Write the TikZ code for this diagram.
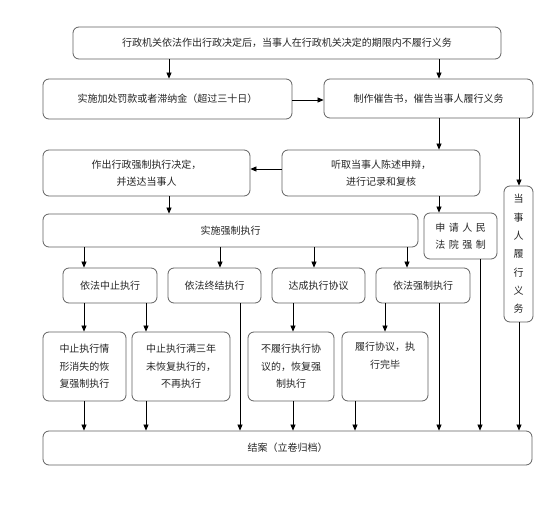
\documentclass[tikz,border=0pt]{standalone}
\usepackage{fontspec}
\setmainfont{Noto Sans CJK SC}
\usetikzlibrary{arrows.meta}
\newcommand\gp{\hspace{3.5pt}}
\begin{document}
\begin{tikzpicture}[x=1pt,y=-1pt,
 box/.style={draw=black!62, line width=0.8pt, rounded corners=6pt, inner sep=0pt,
   text=black!85, font=\fontsize{10}{17.5}\selectfont, align=center},
 arr/.style={-{Triangle[length=6pt,width=5pt]}, line width=0.7pt, black}]
\useasboundingbox (0,0) rectangle (560,508);
\fill[white] (0,0) rectangle (560,508);

\node[box, minimum width=428pt, minimum height=32pt] (top) at (287,43) {行政机关依法作出行政决定后，当事人在行政机关决定的期限内不履行义务};
\node[box, minimum width=249pt, minimum height=40pt] (fine) at (167.5,99) {实施加处罚款或者滞纳金（超过三十日）};
\node[box, minimum width=209pt, minimum height=39pt] (cuigao) at (428.5,98.5) {制作催告书，催告当事人履行义务};
\node[box, minimum width=207pt, minimum height=46pt] (jueding) at (146.5,173) {作出行政强制执行决定，\\并送达当事人};
\node[box, minimum width=198pt, minimum height=46pt] (tingqu) at (381,173) {听取当事人陈述申辩，\\进行记录和复核};
\node[box, minimum width=29pt, minimum height=136pt, font=\fontsize{10}{18.3}\selectfont] (lvxing) at (518.5,254) {当\\事\\人\\履\\行\\义\\务};
\node[box, minimum width=375pt, minimum height=33pt] (shishi) at (230.5,230.5) {实施强制执行};
\node[box, minimum width=73pt, minimum height=46pt] (fayuan) at (460.5,236) {申\gp 请\gp 人\gp 民\\法\gp 院\gp 强\gp 制};

\node[box, minimum width=94pt, minimum height=35pt] (zz) at (110,285.5) {依法中止执行};
\node[box, minimum width=93pt, minimum height=35pt] (zj) at (214.5,285.5) {依法终结执行};
\node[box, minimum width=93pt, minimum height=35pt] (dc) at (318.5,285.5) {达成执行协议};
\node[box, minimum width=94pt, minimum height=35pt] (qz) at (423,285.5) {依法强制执行};

\node[box, minimum width=83pt, minimum height=69pt] (b1) at (84.5,366.5) {中止执行情\\形消失的恢\\复强制执行};
\node[box, minimum width=98pt, minimum height=69pt] (b2) at (181,366.5) {中止执行满三年\\未恢复执行的，\\不再执行};
\node[box, minimum width=86pt, minimum height=69pt] (b3) at (291,366.5) {不履行执行协\\议的，恢复强\\制执行};
\node[box, minimum width=86pt, minimum height=69pt] (b4) at (385,366.5) {履行协议，执\\行完毕\\\strut};

\node[box, minimum width=489pt, minimum height=34pt] (end) at (287.5,448) {结案（立卷归档）};

\newcommand\vconn[3]{\draw[arr] (#1.south -| #3,0) -- (#2.north -| #3,0);}
\vconn{top}{fine}{169}
\vconn{top}{cuigao}{439}
\draw[arr] (fine.east |- 0,100) -- (cuigao.west |- 0,100);
\vconn{cuigao}{tingqu}{439}
\vconn{cuigao}{lvxing}{519}
\draw[arr] (tingqu.west |- 0,169) -- (jueding.east |- 0,169);
\vconn{jueding}{shishi}{169}
\vconn{tingqu}{fayuan}{439}
\vconn{shishi}{zz}{84}
\vconn{shishi}{zj}{220}
\vconn{shishi}{dc}{314}
\vconn{shishi}{qz}{407}
\vconn{zz}{b1}{84}
\vconn{zz}{b2}{146}
\vconn{dc}{b3}{293}
\vconn{qz}{b4}{385}
\vconn{b1}{end}{84}
\vconn{b2}{end}{146}
\vconn{zj}{end}{240}
\vconn{b3}{end}{293}
\vconn{b4}{end}{355}
\vconn{qz}{end}{439}
\vconn{fayuan}{end}{480}
\vconn{lvxing}{end}{519}
\end{tikzpicture}
\end{document}
